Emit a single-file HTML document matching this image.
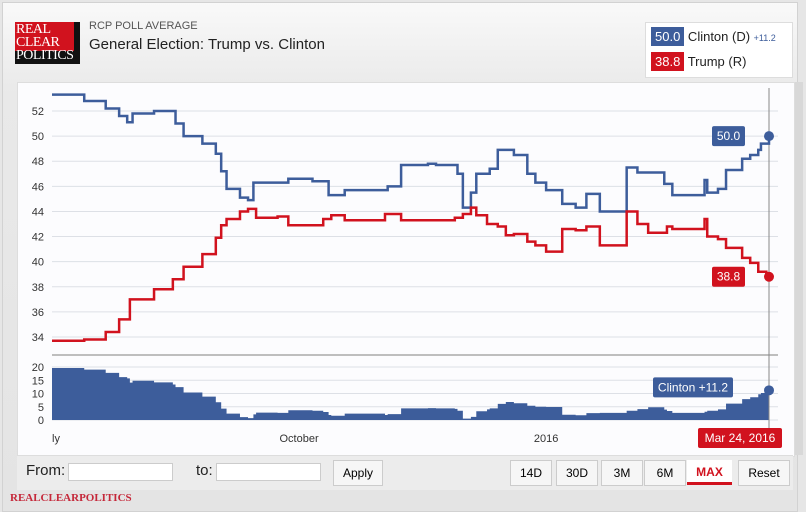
<!DOCTYPE html>
<html><head><meta charset="utf-8">
<style>
body{margin:0;width:806px;height:512px;overflow:hidden;font-family:"Liberation Sans",sans-serif;background:#e6e6e6;position:relative}
.abs{position:absolute}
</style></head>
<body>
<div class="abs" style="left:2px;top:2px;width:794px;height:508px;background:linear-gradient(#f9f9f9,#e9e9e9 90px,#e4e4e4);border:1px solid #d2d2d2"></div>
<div class="abs" style="left:15px;top:22px;width:65px;height:42px;background:#111;overflow:hidden">
 <div style="background:#d1121e;height:29px;width:59px;position:absolute;left:0;top:0"></div>
 <div style="position:absolute;left:1px;top:1px;font:14px/13px 'Liberation Serif',serif;color:#fff;letter-spacing:-0.5px">REAL<br>CLEAR<br>POLITICS</div>
</div>
<div class="abs" style="left:89px;top:20px;font-size:11px;color:#555">RCP POLL AVERAGE</div>
<div class="abs" style="left:89px;top:36px;font-size:15px;color:#222">General Election: Trump vs. Clinton</div>
<div class="abs" style="left:645px;top:22px;width:146px;height:54px;background:#fff;border:1px solid #ddd">
 <div style="position:absolute;left:5px;top:6px;font-size:13px;color:#222;white-space:nowrap"><span style="background:#3d5d9b;color:#fff;padding:2px 4px">50.0</span> Clinton (D) <span style="font-size:9px;color:#3d5d9b">+11.2</span></div>
 <div style="position:absolute;left:5px;top:31px;font-size:13px;color:#222;white-space:nowrap"><span style="background:#d1121e;color:#fff;padding:2px 4px">38.8</span> Trump (R)</div>
</div>
<div class="abs" style="left:17px;top:82px;width:776px;height:373px;background:#fcfcfe;border:1px solid #ddd"></div>
<div class="abs" style="left:795px;top:82px;width:8px;height:373px;background:#d8d8d8"></div>
<svg class="abs" style="left:0;top:0" width="806" height="512" id="chart"></svg>
<div class="abs" style="left:17px;top:455px;width:776px;height:34px;background:#ececec;border-top:1px solid #ddd"></div>
<div class="abs" style="left:26px;top:462px;font-size:15px;color:#222">From:</div>
<div class="abs" style="left:68px;top:463px;width:103px;height:16px;background:#fff;border:1px solid #ccc"></div>
<div class="abs" style="left:196px;top:462px;font-size:15px;color:#222">to:</div>
<div class="abs" style="left:216px;top:463px;width:103px;height:16px;background:#fff;border:1px solid #ccc"></div>
<div class="abs" style="left:333px;top:460px;width:48px;height:24px;background:#f6f6f6;border:1px solid #ccc;font-size:12px;line-height:24px;text-align:center">Apply</div>
<div class="abs" style="left:510px;top:460px;width:40px;height:24px;background:#f6f6f6;border:1px solid #ccc;font-size:12px;line-height:24px;text-align:center">14D</div>
<div class="abs" style="left:556px;top:460px;width:40px;height:24px;background:#f6f6f6;border:1px solid #ccc;font-size:12px;line-height:24px;text-align:center">30D</div>
<div class="abs" style="left:601px;top:460px;width:40px;height:24px;background:#f6f6f6;border:1px solid #ccc;font-size:12px;line-height:24px;text-align:center">3M</div>
<div class="abs" style="left:644px;top:460px;width:40px;height:24px;background:#f6f6f6;border:1px solid #ccc;font-size:12px;line-height:24px;text-align:center">6M</div>
<div class="abs" style="left:687px;top:460px;width:45px;height:22px;background:#fff;border-bottom:3px solid #d1121e;font-size:12px;line-height:24px;text-align:center;color:#d1121e;font-weight:bold">MAX</div>
<div class="abs" style="left:738px;top:460px;width:50px;height:24px;background:#f6f6f6;border:1px solid #ccc;font-size:12px;line-height:24px;text-align:center">Reset</div>
<div class="abs" style="left:10px;top:492px;font:bold 11px 'Liberation Serif',serif;color:#c5283a">REALCLEARPOLITICS</div>
<script>
const clintonDays=[0,12,20,25,28,30,38,46,49,56,61,63,65,70,73,75,88,97,103,109,125,130,140,143,151,153,156,158,163,166,172,177,180,184,190,195,199,204,214,218,228,231,243,244,248,251,257,260,263,264,267];
const clintonVals=[53.3,52.8,52.2,51.6,51.1,51.8,52.0,51.0,50.0,49.4,48.6,47.2,45.8,45.1,44.9,46.3,46.6,46.4,45.3,45.7,46.0,47.7,47.8,47.7,47.0,44.3,45.5,47.0,47.4,48.9,48.5,47.0,46.3,45.7,44.6,44.3,45.4,44.0,47.5,47.1,46.2,45.3,46.5,45.5,45.8,47.3,48.2,48.5,48.9,49.4,50.0];
const trumpDays=[0,12,20,25,29,38,45,49,56,61,63,65,70,73,76,84,88,101,104,109,124,130,144,150,153,156,158,162,166,169,172,177,180,184,190,195,199,204,214,218,222,229,231,243,244,248,251,257,260,263,266,267];
const trumpVals=[33.7,33.8,34.4,35.4,37.0,37.8,38.6,39.6,40.6,41.9,42.9,43.4,44.0,44.2,43.5,43.6,42.9,43.4,43.7,43.3,43.8,43.3,43.3,43.5,43.8,44.3,43.7,43.0,42.8,42.1,42.2,41.6,41.3,40.8,42.6,42.5,42.8,41.3,44.0,43.0,42.3,42.8,42.6,43.4,42.0,41.8,41.1,40.3,39.9,39.2,38.8,38.8];
const mainTicks=[34,36,38,40,42,44,46,48,50,52];
const spreadTicks=[0,5,10,15,20];
const xLabels=["ly","October","2016"];
const xLabelDays=[0,92,184];
const lastDay=267;
const NS="http://www.w3.org/2000/svg";
const svg=document.getElementById('chart');
const X=d=>52+d*(717/lastDay);
const Y=v=>111+(52-v)*(226/18);
const YS=v=>420-v*(53/20);
function mk(t,a){const e=document.createElementNS(NS,t);for(const k in a)e.setAttribute(k,a[k]);svg.appendChild(e);return e;}
mainTicks.forEach(v=>{
 const g=mk('line',{x1:52,x2:778,y1:Y(v),y2:Y(v),stroke:'#dde0e6','stroke-width':1});
 
 
 const t=mk('text',{x:44,y:Y(v)+4,'text-anchor':'end','font-size':11,fill:'#333','font-family':'Liberation Sans'});
 t.textContent=v;
 
 
});
const sep=mk('line',{x1:52,x2:778,y1:355,y2:355,stroke:'#999','stroke-width':1.2});


spreadTicks.forEach(v=>{
 const g=mk('line',{x1:52,x2:778,y1:YS(v),y2:YS(v),stroke:'#dde0e6','stroke-width':1});
 
 
 const t=mk('text',{x:44,y:YS(v)+4,'text-anchor':'end','font-size':11,fill:'#333','font-family':'Liberation Sans'});
 t.textContent=v;
 
 
});
function stepPath(days,vals,yf){let d='M'+X(days[0])+','+yf(vals[0]);for(let i=1;i<days.length;i++){d+=' L'+X(days[i])+','+yf(vals[i-1])+' L'+X(days[i])+','+yf(vals[i]);}return d;}
function valAt(days,vals,day){let v=vals[0];for(let i=0;i<days.length;i++){if(days[i]<=day)v=vals[i];}return v;}
const allDays=[...new Set(clintonDays.concat(trumpDays))].sort((a,b)=>a-b);
const spreadVals=allDays.map(d=>valAt(clintonDays,clintonVals,d)-valAt(trumpDays,trumpVals,d));
let area=stepPath(allDays,spreadVals,YS)+' L'+X(allDays[allDays.length-1])+','+YS(0)+' L'+X(0)+','+YS(0)+' Z';
const ar=mk('path',{d:area,fill:'#3d5d9b'});


const cur=mk('line',{x1:X(lastDay),x2:X(lastDay),y1:88,y2:430,stroke:'#888','stroke-width':1});


const cl=mk('path',{d:stepPath(clintonDays,clintonVals,Y),fill:'none',stroke:'#3d5d9b','stroke-width':2.5});


const tl=mk('path',{d:stepPath(trumpDays,trumpVals,Y),fill:'none',stroke:'#d1121e','stroke-width':2.5});


const cLast=clintonVals[clintonVals.length-1],tLast=trumpVals[trumpVals.length-1],sLast=spreadVals[spreadVals.length-1];
const c1=mk('circle',{cx:X(lastDay),cy:Y(cLast),r:5,fill:'#3d5d9b'});


const c2=mk('circle',{cx:X(lastDay),cy:Y(tLast),r:5,fill:'#d1121e'});


const c3=mk('circle',{cx:X(lastDay),cy:YS(sLast),r:5,fill:'#3d5d9b'});


function badge(name,x,y,w,h,fill,txt){
 const r=mk('rect',{x:x,y:y,width:w,height:h,rx:2,fill:fill});
 
 
 const t=mk('text',{x:x+w/2,y:y+h/2+4,'text-anchor':'middle','font-size':12,fill:'#fff','font-family':'Liberation Sans'});
 t.textContent=txt;
 
 
}
badge('clinton-value-badge',712,Y(cLast)-10,33,20,'#3d5d9b',cLast.toFixed(1));
badge('trump-value-badge',712,Y(tLast)-10,33,20,'#d1121e',tLast.toFixed(1));
badge('spread-value-badge',653,YS(sLast)-13,80,20,'#3d5d9b','Clinton +'+sLast.toFixed(1));
badge('date-badge',698,428,84,20,'#d1121e','Mar 24, 2016');
xLabels.forEach((l,i)=>{
 const t=mk('text',{x:X(xLabelDays[i]),y:442,'text-anchor':i===0?'start':'middle','font-size':11,fill:'#333','font-family':'Liberation Sans'});
 t.textContent=l;
 
 
});
</script>
</body></html>
